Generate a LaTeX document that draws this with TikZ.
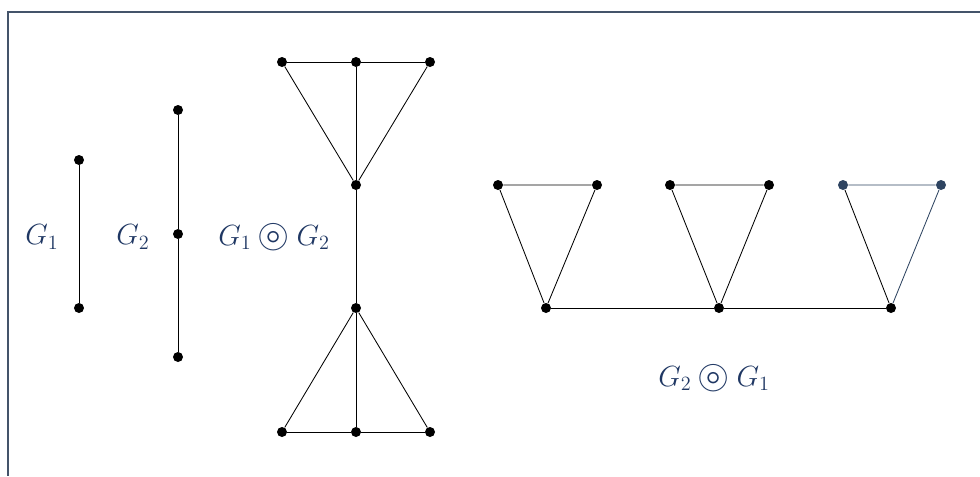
\documentclass[tikz,border=0pt]{standalone}
\usepackage{amssymb}
\usetikzlibrary{positioning}
\definecolor{gnavy}{HTML}{1F3763}
\definecolor{gframe}{HTML}{44546A}
\definecolor{gblue}{HTML}{2E4461}
\newcommand{\corona}{\mathbin{\raisebox{-0.15ex}{\scalebox{1.4}{$\circledcirc$}}}}

\begin{document}
\begin{tikzpicture}[x=0.025cm, y=-0.025cm,
  vtx/.style={circle, fill=black, inner sep=0pt, minimum size=0.25cm},
  bvtx/.style={vtx, fill=gblue},
  edge/.style={line width=0.6pt, black},
  lbl/.style={font=\fontsize{21}{25}\selectfont, text=gnavy},
]
  \useasboundingbox (0,0) rectangle (980,476);
  \draw[gframe, line width=0.9pt] (980,12) -- (8,12) -- (8,476);

  % G1 and G2
  \node[vtx] (a1) at (79,160) {};
  \node[vtx] (a2) at (79,308) {};
  \draw[edge] (a1) -- (a2);
  \node[vtx] (c1) at (178,110) {};
  \node[vtx] (c2) at (178,234) {};
  \node[vtx] (c3) at (178,357) {};
  \draw[edge] (c1) -- (c2) -- (c3);
  \node[lbl] (g1) at (42,237) {$G_1$};
  \node[lbl] (g2) at (133,237) {$G_2$};

  % G1 corona G2
  \node[vtx] (u1) at (356,185) {};
  \node[vtx] (u2) at (356,308) {};
  \foreach \x [count=\i] in {282,356,430} {
    \node[vtx] (t\i) at (\x,62) {};
    \node[vtx] (b\i) at (\x,432) {};
  }
  \draw[edge] (t1) -- (t2) -- (t3);
  \draw[edge] (b1) -- (b2) -- (b3);
  \draw[edge] (t1) -- (u1) -- (t3);
  \draw[edge] (t2) -- (u1) -- (u2) -- (b2);
  \draw[edge] (b1) -- (u2) -- (b3);
  \node[lbl] (g12) at (274,237) {$G_1 \corona G_2$};

  % G2 corona G1
  \foreach \x/\l/\r [count=\i] in {546/498/597, 719/670/769} {
    \node[vtx] (p\i) at (\x,308) {};
    \node[vtx] (l\i) at (\l,185) {};
    \node[vtx] (r\i) at (\r,185) {};
    \draw[edge] (l\i) -- (r\i) -- (p\i) -- (l\i);
  }
  \node[vtx] (p3) at (891,308) {};
  \node[bvtx] (l3) at (843,185) {};
  \node[bvtx] (r3) at (941,185) {};
  \draw[edge] (l3) -- (p3);
  \draw[edge, gblue] (l3) -- (r3) -- (p3);
  \draw[edge] (p1) -- (p2) -- (p3);
  \node[lbl] (g21) at (714,378) {$G_2 \corona G_1$};
\end{tikzpicture}
\end{document}
